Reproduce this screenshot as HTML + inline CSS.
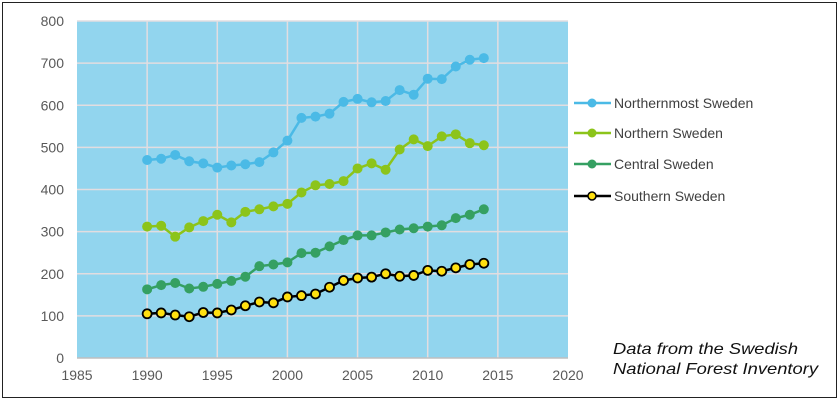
<!DOCTYPE html>
<html><head><meta charset="utf-8"><style>
body{margin:0;background:#fff;}
svg{display:block;font-family:"Liberation Sans",sans-serif;}
</style></head><body>
<svg width="840" height="400">
<rect x="2.5" y="2.5" width="834" height="395" fill="#fff" stroke="#222" stroke-width="1"/>
<rect x="77" y="21" width="491" height="337" fill="#92d5ee"/>
<g id="grid"></g><g id="axes"></g><g id="series"></g>
<g id="legend" font-size="14" fill="#333"></g>
<text x="613" y="354" font-size="16" font-style="italic" fill="#111" textLength="185" lengthAdjust="spacingAndGlyphs">Data from the Swedish</text>
<text x="613" y="374" font-size="16" font-style="italic" fill="#111" textLength="205" lengthAdjust="spacingAndGlyphs">National Forest Inventory</text>
</svg>
<script>
const years=[1990,1991,1992,1993,1994,1995,1996,1997,1998,1999,2000,2001,2002,2003,2004,2005,2006,2007,2008,2009,2010,2011,2012,2013,2014];
const northernmost=[470,473,482,467,462,452,457,460,465,488,516,570,573,580,608,615,607,610,636,625,663,662,692,708,712];
const northern=[312,314,288,310,325,340,322,347,353,360,366,393,410,413,420,450,462,447,495,519,503,526,531,510,505];
const central=[163,173,178,165,169,176,183,193,218,222,227,249,250,265,280,291,291,298,305,308,312,315,332,340,353];
const southern=[105,107,102,98,108,107,114,124,133,131,145,148,152,168,184,190,192,200,194,196,208,206,214,222,225];
const xTicks=[1985,1990,1995,2000,2005,2010,2015,2020];
const yTicks=[0,100,200,300,400,500,600,700,800];
const seriesNames=["Northernmost Sweden","Northern Sweden","Central Sweden","Southern Sweden"];
const NS="http://www.w3.org/2000/svg";
const X0=77,X1=568,Y0=358,Y1=21;
function xs(v){return X0+(v-1985)/35*(X1-X0);}
function ys(v){return Y0-v/800*(Y0-Y1);}
function mk(t,a,p){const e=document.createElementNS(NS,t);for(const k in a)e.setAttribute(k,a[k]);p.appendChild(e);return e;}
const grid=document.getElementById('grid'),axes=document.getElementById('axes');
yTicks.forEach(v=>{
 if(v>0){const l=mk('line',{x1:X0,x2:X1,y1:ys(v),y2:ys(v),stroke:'#e2dde0','stroke-width':1.5},grid);
 
 }
 const t=mk('text',{x:X0-13,y:ys(v)+5,'text-anchor':'end','font-size':14,fill:'#595959'},axes);t.textContent=v;
 
 
});
xTicks.forEach(v=>{
 if(v>1985&&v<2020){const l=mk('line',{x1:xs(v),x2:xs(v),y1:Y1,y2:Y0,stroke:'#e2dde0','stroke-width':1.5},grid);
 
 }
 const t=mk('text',{x:xs(v),y:Y0+22,'text-anchor':'middle','font-size':14,fill:'#595959'},axes);t.textContent=v;
 
 
});
const ax=mk('line',{x1:X0,x2:X1,y1:Y0,y2:Y0,stroke:'#bfbfbf','stroke-width':1.5},axes);


const defs=[
 {d:northernmost,line:'#4bbae6',fill:'#4bbae6',stroke:'none',slug:'northernmost'},
 {d:northern,line:'#8cc41a',fill:'#8cc41a',stroke:'none',slug:'northern'},
 {d:central,line:'#35a062',fill:'#35a062',stroke:'none',slug:'central'},
 {d:southern,line:'#000',fill:'#ffe010',stroke:'#000',slug:'southern'}];
const sg=document.getElementById('series');
defs.forEach(s=>{
 const g=mk('g',{},sg);
 
 
 const pts=s.d.map((v,i)=>xs(years[i])+','+ys(v)).join(' ');
 const pl=mk('polyline',{points:pts,fill:'none',stroke:s.line,'stroke-width':2.5},g);
 
 
 s.d.forEach((v,i)=>{const c=mk('circle',{cx:xs(years[i]),cy:ys(v),r:s.stroke==='none'?5:4.5,fill:s.fill,stroke:s.stroke,'stroke-width':1.8},g);
  
  });
});
const lg=document.getElementById('legend');
const ly=[103,133,164,196];
defs.forEach((s,i)=>{
 const g=mk('g',{},lg);
 
 
 mk('line',{x1:574,x2:611,y1:ly[i],y2:ly[i],stroke:s.line,'stroke-width':2.5},g);
 mk('circle',{cx:592,cy:ly[i],r:s.stroke==='none'?4.5:4,fill:s.fill,stroke:s.stroke,'stroke-width':1.5},g);
 const t=mk('text',{x:614,y:ly[i]+5,'font-size':14,fill:'#404040'},g);t.textContent=seriesNames[i];
});
</script>
</body></html>
